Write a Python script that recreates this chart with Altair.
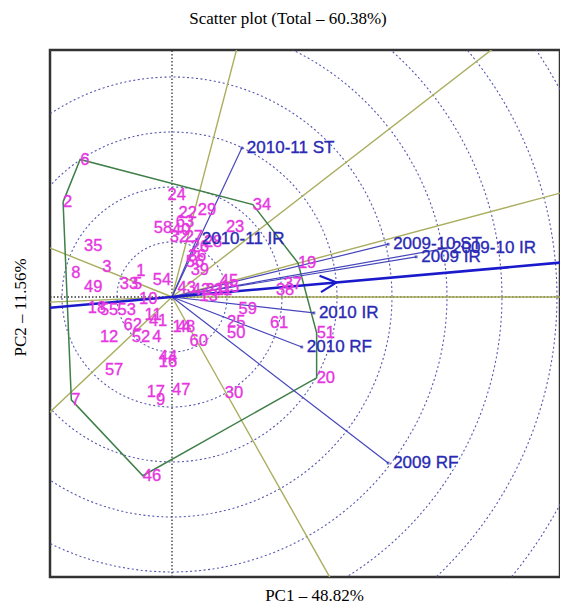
import altair as alt
import pandas as pd
import numpy as np

# ---------------- data ----------------
title_text = "Scatter plot (Total \u2013 60.38%)"
x_title = "PC1 \u2013 48.82%"
y_title = "PC2 \u2013 11.56%"

genotypes = [str(i) for i in range(1, 64)]
g_pc1 = [-0.65, -1.98, -1.27, -0.36, -0.71, -1.67, -1.83, -1.83, -0.29, -0.60,
         -0.50, -1.31, 0.50, 0.01, 0.89, -0.24, -0.46, -1.53, 2.29, 2.63,
         0.61, 0.12, 0.98, -0.08, 1.00, 0.34, 0.23, 0.58, 0.47, 0.96,
         0.76, -0.04, -0.95, 1.47, -1.60, 0.29, 2.03, 1.89, 0.34, 0.00,
         -0.42, 0.36, 0.10, -0.24, 0.87, -0.53, 0.00, 0.09, -1.60, 1.00,
         2.63, -0.73, -0.99, -0.35, -1.31, 0.25, -1.22, -0.33, 1.21, 0.32,
         1.78, -0.88, 0.07]
g_pc2 = [0.47, 1.73, 0.55, -0.73, 0.24, 2.50, -1.87, 0.44, -1.87, -0.04,
         -0.33, -0.73, 0.02, -0.55, 0.18, -1.18, -1.73, -0.20, 0.62, -1.47,
         0.13, 1.53, 1.27, 1.85, -0.45, 0.91, 1.09, 1.00, 1.58, -1.75,
         0.13, 1.09, 0.24, 1.68, 0.93, 0.75, 0.24, 0.13, 0.49, 1.22,
         -0.44, 0.13, 0.16, -1.09, 0.29, -3.25, -1.69, -0.55, 0.18, -0.65,
         -0.65, -0.73, -0.24, 0.31, -0.24, 0.64, -1.33, 1.25, -0.22, -0.80,
         -0.47, -0.51, 1.36]

environments = ["2010-11 ST", "2010-11 IR", "2009-10 ST", "2009-10 IR",
                "2009 IR", "2010 IR", "2010 RF", "2009 RF"]
e_pc1 = [1.27, 0.45, 3.93, 5.00, 4.44, 2.58, 2.36, 3.93]
e_pc2 = [2.71, 1.05, 0.96, 0.89, 0.73, -0.29, -0.91, -3.02]

ring_radii = [1, 2, 3, 4, 5, 6, 7, 8, 9]

# ---------------- derived geometry ----------------
X_DOM = [-2.218, 7.055]
Y_DOM = [-5.091, 4.491]
W, H = 510, 527

gdf = pd.DataFrame({"g": genotypes, "x": g_pc1, "y": g_pc2})
edf = pd.DataFrame({"e": environments, "x": e_pc1, "y": e_pc2,
                    "x0": 0.0, "y0": 0.0})

# circles
rows = []
for r in ring_radii:
    for i, t in enumerate(np.linspace(0, 2 * np.pi, 241)):
        rows.append({"r": r, "i": i, "x": r * np.cos(t), "y": r * np.sin(t)})
circ = pd.DataFrame(rows)

# convex hull (monotone chain)
pts = sorted(zip(g_pc1, g_pc2))
def cross(o, a, b):
    return (a[0] - o[0]) * (b[1] - o[1]) - (a[1] - o[1]) * (b[0] - o[0])
lower, upper = [], []
for p in pts:
    while len(lower) >= 2 and cross(lower[-2], lower[-1], p) <= 0:
        lower.pop()
    lower.append(p)
for p in reversed(pts):
    while len(upper) >= 2 and cross(upper[-2], upper[-1], p) <= 0:
        upper.pop()
    upper.append(p)
hull = lower[:-1] + upper[:-1]
hull_closed = hull + [hull[0]]
hdf = pd.DataFrame({"i": range(len(hull_closed)),
                    "x": [p[0] for p in hull_closed],
                    "y": [p[1] for p in hull_closed]})

# perpendicular rays from origin to each hull side
ray_rows = []
for a, b in zip(hull_closed[:-1], hull_closed[1:]):
    dx, dy = b[0] - a[0], b[1] - a[1]
    n = np.array([dy, -dx])
    if n @ np.array(a) < 0:
        n = -n
    n = n / np.linalg.norm(n) * 20
    ray_rows.append({"x0": 0.0, "y0": 0.0, "x": n[0], "y": n[1]})
rays = pd.DataFrame(ray_rows)

# average environment axis
mean = np.array([np.mean(e_pc1), np.mean(e_pc2)])
u = mean / np.linalg.norm(mean)
v = np.array([-u[1], u[0]])
aec = pd.DataFrame([{"x0": -20 * u[0], "y0": -20 * u[1], "x": 20 * u[0], "y": 20 * u[1]}])
tip = mean
arms = pd.DataFrame([
    {"x0": tip[0], "y0": tip[1], "x": (tip - 0.3 * u + 0.15 * v)[0], "y": (tip - 0.3 * u + 0.15 * v)[1]},
    {"x0": tip[0], "y0": tip[1], "x": (tip - 0.3 * u - 0.15 * v)[0], "y": (tip - 0.3 * u - 0.15 * v)[1]},
])

axes_lines = pd.DataFrame([
    {"x0": X_DOM[0], "y0": 0.0, "x": X_DOM[1], "y": 0.0},
    {"x0": 0.0, "y0": Y_DOM[0], "x": 0.0, "y": Y_DOM[1]},
])

# ---------------- encodings ----------------
xs = alt.Scale(domain=X_DOM, nice=False, zero=False)
ys = alt.Scale(domain=Y_DOM, nice=False, zero=False)
xaxis = alt.Axis(title=x_title, labels=False, ticks=False, domain=False, grid=False,
                 titleFont="Liberation Serif", titleFontSize=17, titleFontWeight="normal",
                 titleColor="black", titleX=264, titleY=18, titleBaseline="middle",
                 titleAlign="center")
yaxis = alt.Axis(title=y_title, labels=False, ticks=False, domain=False, grid=False,
                 titleFont="Liberation Serif", titleFontSize=17, titleFontWeight="normal",
                 titleColor="black", titleX=-30, titleY=257, titleAngle=270,
                 titleBaseline="middle", titleAlign="center")

def X(f="x"):
    return alt.X(f"{f}:Q", scale=xs, axis=xaxis)
def Y(f="y"):
    return alt.Y(f"{f}:Q", scale=ys, axis=yaxis)

circles = alt.Chart(circ).mark_line(clip=True, color="#5656b0", strokeWidth=1.1,
                                     strokeDash=[2, 2.5]).encode(
    x=X(), y=Y(), detail="r:N", order="i:Q")

axl = alt.Chart(axes_lines).mark_rule(clip=True, color="#333333", strokeWidth=1.3,
                                      strokeDash=[1.5, 2]).encode(
    x=X("x0"), y=Y("y0"), x2="x:Q", y2="y:Q")

ray_layer = alt.Chart(rays).mark_rule(clip=True, color="#aaae5e", strokeWidth=1.4).encode(
    x=X("x0"), y=Y("y0"), x2="x:Q", y2="y:Q")

poly = alt.Chart(hdf).mark_line(clip=True, color="#3f7f48", strokeWidth=1.5).encode(
    x=X(), y=Y(), order="i:Q")

evec = alt.Chart(edf).mark_rule(clip=True, color="#4646bb", strokeWidth=1.2).encode(
    x=X("x0"), y=Y("y0"), x2="x:Q", y2="y:Q")

edot = alt.Chart(edf).mark_point(clip=True, filled=True, size=8, color="#2a2ab0",
                                  shape="square").encode(x=X(), y=Y())

aec_layer = alt.Chart(aec).mark_rule(clip=True, color="#1a1acc", strokeWidth=2.6).encode(
    x=X("x0"), y=Y("y0"), x2="x:Q", y2="y:Q")

arrow = alt.Chart(arms).mark_rule(clip=True, color="#1a1acc", strokeWidth=2.2).encode(
    x=X("x0"), y=Y("y0"), x2="x:Q", y2="y:Q")

glab = alt.Chart(gdf).mark_text(clip=True, align="left", baseline="middle",
                                font="Liberation Sans", fontSize=16.5,
                                color="#e636e0", stroke="#e636e0",
                                strokeWidth=0.35).encode(x=X(), y=Y(), text="g:N")

elab = alt.Chart(edf).mark_text(clip=True, align="left", baseline="middle", dx=5,
                                font="Liberation Sans", fontSize=17,
                                color="#2a2ab4", stroke="#2a2ab4",
                                strokeWidth=0.35).encode(x=X(), y=Y(), text="e:N")

chart = alt.layer(circles, axl, ray_layer, poly, evec, edot, aec_layer, arrow,
                  glab, elab).properties(
    width=W, height=H,
    autosize=alt.AutoSizeParams(type="none"),
    padding={"left": 42, "top": 42, "right": 0, "bottom": 25},
    title=alt.TitleParams(title_text, font="Liberation Serif", fontSize=17,
                          fontWeight="normal", color="black", anchor="middle",
                          offset=22, dx=-17),
).configure_view(stroke="#333333", strokeWidth=2.5)

chart.save("out.html", embed_options={"renderer": "svg", "actions": False})
